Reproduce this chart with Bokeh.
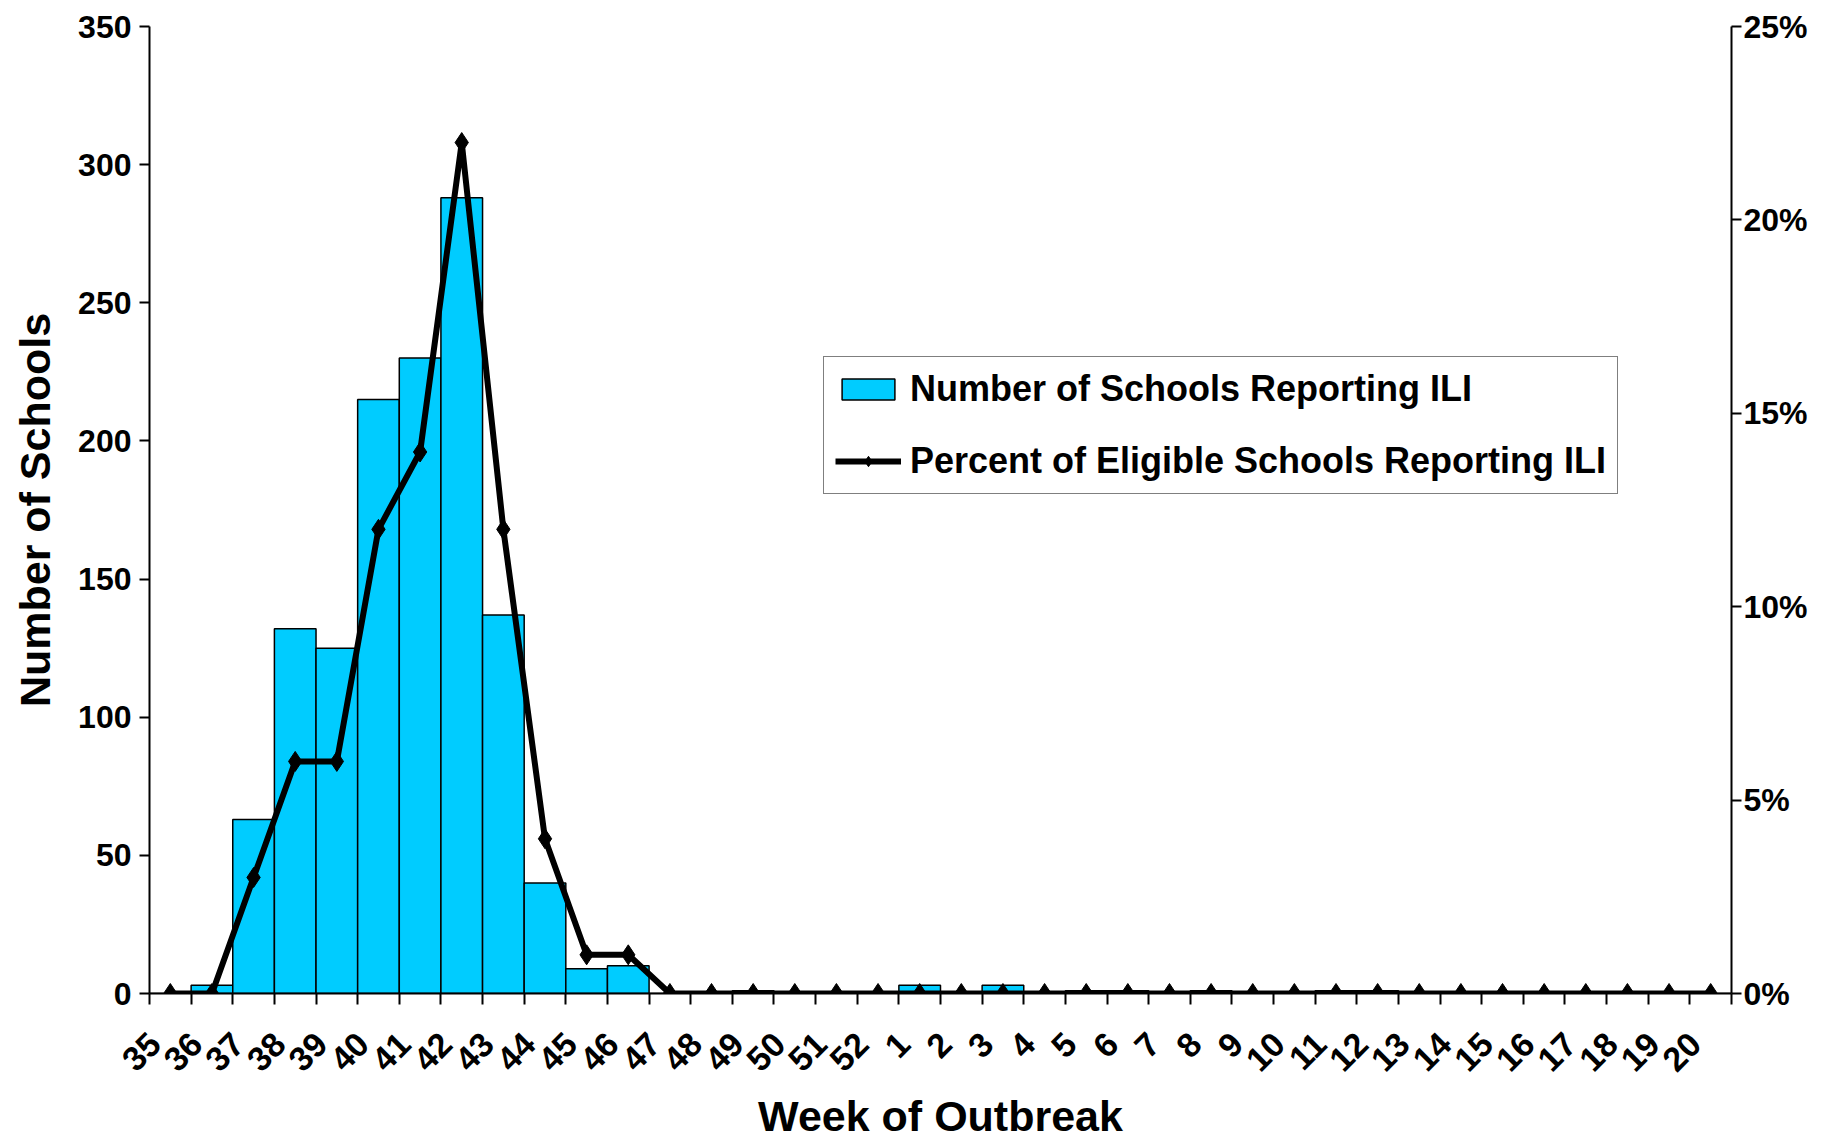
import math
from bokeh.plotting import figure
from bokeh.models import (Range1d, LinearAxis, FixedTicker, PrintfTickFormatter,
                          Legend, LegendItem, ColumnDataSource)
from bokeh.embed import file_html
from bokeh.resources import INLINE

weeks = ["35", "36", "37", "38", "39", "40", "41", "42", "43", "44", "45", "46",
         "47", "48", "49", "50", "51", "52", "1", "2", "3", "4", "5", "6", "7",
         "8", "9", "10", "11", "12", "13", "14", "15", "16", "17", "18", "19", "20"]
schools = [0, 3, 63, 132, 125, 215, 230, 288, 137, 40, 9, 10,
           0, 0, 1, 0, 0, 0, 3, 0, 3, 0, 1, 1, 0,
           1, 0, 0, 1, 1, 0, 0, 0, 0, 0, 0, 0, 0]
percent = [0, 0, 3, 6, 6, 12, 14, 22, 12, 4, 1, 1,
           0, 0, 0, 0, 0, 0, 0, 0, 0, 0, 0, 0, 0,
           0, 0, 0, 0, 0, 0, 0, 0, 0, 0, 0, 0, 0]
left_ticks = [0, 50, 100, 150, 200, 250, 300, 350]
right_ticks = [0, 5, 10, 15, 20, 25]

FONT = "Liberation Sans"
n = len(weeks)
xs = list(range(n))
src = ColumnDataSource(dict(x=xs, schools=schools, percent=percent))

p = figure(width=1825, height=1142, output_backend="svg",
           toolbar_location=None,
           x_range=Range1d(-0.5, n - 0.5), y_range=Range1d(0, 350),
           min_border_left=149, min_border_right=94, min_border_top=26,
           min_border_bottom=148, y_axis_location=None, x_axis_location=None)
p.outline_line_color = None
p.xgrid.visible = False
p.ygrid.visible = False
p.extra_y_ranges = {"pct": Range1d(0, 25)}

bars = p.vbar(x="x", top="schools", width=1.0, bottom=0, source=src,
              fill_color="#00CCFF", line_color="black", line_width=1.5)
ln = p.line(x="x", y="percent", source=src, y_range_name="pct",
            line_color="black", line_width=6)
mk = p.scatter(x="x", y="percent", source=src, y_range_name="pct",
               marker="diamond", size=20, fill_color="black", line_color="black")

yl = LinearAxis(ticker=FixedTicker(ticks=left_ticks, minor_ticks=[]),
                axis_label="Number of Schools")
yr = LinearAxis(y_range_name="pct",
                ticker=FixedTicker(ticks=right_ticks, minor_ticks=[]),
                formatter=PrintfTickFormatter(format="%d%%"))
# week labels sit slightly left of the bar centres, as in the original
label_pos = [round(i - 0.37, 2) for i in xs]
xa = LinearAxis(ticker=FixedTicker(ticks=label_pos,
                                   minor_ticks=[i - 0.5 for i in range(n + 1)]),
                axis_label="Week of Outbreak")
xa.major_label_overrides = {lp: w for lp, w in zip(label_pos, weeks)}
xa.major_label_orientation = math.pi / 4
xa.major_tick_out = 0
xa.major_tick_in = 0
xa.minor_tick_out = 11
xa.minor_tick_in = 0
xa.minor_tick_line_color = "black"
xa.minor_tick_line_width = 2

for ax in (yl, yr, xa):
    ax.axis_line_color = "black"
    ax.axis_line_width = 2
    ax.major_tick_line_width = 2
    ax.major_label_text_font = FONT
    ax.major_label_text_font_style = "bold"
    ax.major_label_text_font_size = "32px"
    ax.major_label_text_color = "black"
    ax.axis_label_text_font = FONT
    ax.axis_label_text_font_style = "bold"
    ax.axis_label_text_font_size = "43px"
    ax.axis_label_text_color = "black"

for ax in (yl, yr):
    ax.major_tick_out = 10
    ax.major_tick_in = 0
    ax.minor_tick_out = 0
    ax.minor_tick_in = 0
yl.major_label_standoff = 8
yr.major_label_standoff = 2
yl.axis_label_standoff = 16
xa.major_label_standoff = 34
xa.axis_label_standoff = 7
xa.major_label_text_font_size = "34px"

p.add_layout(yl, "left")
p.add_layout(yr, "right")
p.add_layout(xa, "below")

legend = Legend(items=[
    LegendItem(label="Number of Schools Reporting ILI", renderers=[bars]),
    LegendItem(label="Percent of Eligible Schools Reporting ILI", renderers=[ln, mk]),
], location=(674, 499))
legend.label_text_font = FONT
legend.label_text_font_style = "bold"
legend.label_text_font_size = "36px"
legend.label_text_color = "black"
legend.glyph_width = 66
legend.glyph_height = 26
legend.label_standoff = 9
legend.padding = 11
legend.spacing = 30
legend.margin = 0
legend.border_line_color = "black"
legend.border_line_width = 1.5
legend.background_fill_alpha = 1
p.add_layout(legend, "center")

open("out.html", "w").write(file_html(p, INLINE))
